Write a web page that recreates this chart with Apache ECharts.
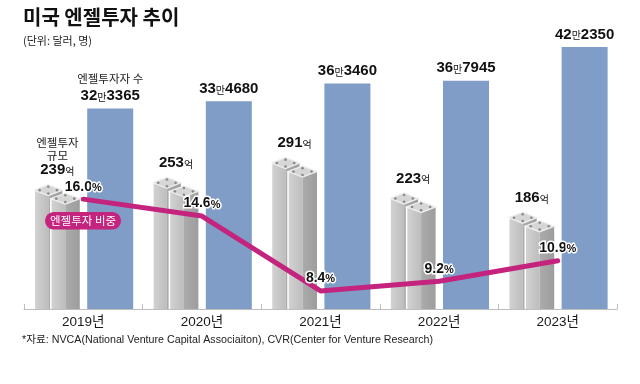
<!DOCTYPE html>
<html>
<head>
<meta charset="utf-8">
<script src="https://cdn.jsdelivr.net/npm/echarts@6/dist/echarts.min.js"></script>
<style>
html,body{margin:0;padding:0;background:#fff;}
#c{width:640px;height:384px;}
</style>
</head>
<body>
<div id="c"></div>
<script>
// ---- data ----
const years = ['2019년', '2020년', '2021년', '2022년', '2023년'];
const scaleValues = [239, 253, 291, 223, 186];          // 엔젤투자 규모 (억 달러)
const investors = [323365, 334680, 363460, 367945, 422350]; // 엔젤투자자 수 (명)
const shares = [16.0, 14.6, 8.4, 9.2, 10.9];             // 엔젤투자 비중 (%)

const NUM = '"Liberation Sans","Noto Sans CJK KR",sans-serif';
const KR = '"Noto Sans CJK KR","Noto Sans",sans-serif';
const MAGENTA = '#c4237e';
const BLUE = '#7f9dc6';

const chart = echarts.init(document.getElementById('c'), null, {renderer: 'canvas'});

function pillarShapes(tx, ty, baseY, h, v) {
  const top = [[tx - h, ty + v], [tx, ty], [tx + h, ty + v], [tx, ty + 2 * v]];
  const left = [[tx - h, ty + v], [tx, ty + 2 * v], [tx, baseY], [tx - h, baseY]];
  const right = [[tx, ty + 2 * v], [tx + h, ty + v], [tx + h, baseY], [tx, baseY]];
  const cx = tx, cy = ty + v;
  const k = 0.62;
  const dots = [[cx - h * k, cy], [cx, cy - v * k], [cx + h * k, cy], [cx, cy + v * k]];
  const els = [
    {type: 'polygon', shape: {points: left}, style: {fill: new echarts.graphic.LinearGradient(0, 0, 1, 0, [{offset: 0, color: '#d3d3d3'}, {offset: 1, color: '#bdbdbd'}])}},
    {type: 'polygon', shape: {points: right}, style: {fill: new echarts.graphic.LinearGradient(0, 0, 1, 0, [{offset: 0, color: '#ababab'}, {offset: 1, color: '#9d9d9d'}])}},
    {type: 'polygon', shape: {points: top}, style: {fill: '#d6d6d6', stroke: '#eeeeee', lineWidth: 1.3}},
    {type: 'line', shape: {x1: tx - h, y1: ty + v, x2: tx - h, y2: baseY}, style: {stroke: '#ffffff', lineWidth: 1.5}}
  ];
  dots.forEach(d => els.push({type: 'circle', shape: {cx: d[0], cy: d[1], r: 1.3}, style: {fill: '#8a8a8a'}}));
  return els;
}

const numRich = {
  n: {fontFamily: NUM, fontWeight: 'bold', fontSize: 15, color: '#111', lineHeight: 17},
  u: {fontFamily: KR, fontSize: 10, color: '#111', lineHeight: 17, padding: [2, 0, 0, 0]}
};

const option = {
  animation: false,
  backgroundColor: '#ffffff',
  grid: {left: 24, right: 23, top: 41, bottom: 75},
  xAxis: {
    type: 'category',
    data: years,
    boundaryGap: true,
    axisLine: {lineStyle: {color: '#bdbdbd', width: 1}},
    axisTick: {show: true, inside: true, length: 5, interval: 0, lineStyle: {color: '#bdbdbd'}},
    axisLabel: {margin: 7, color: '#1a1a1a', fontSize: 13.5, fontFamily: NUM}
  },
  yAxis: [
    {type: 'value', min: 0, max: 515, show: false},
    {type: 'value', min: 0, max: 432000, show: false},
    {type: 'value', min: 6.9, max: 29.1, show: false}
  ],
  series: [
    {
      name: '엔젤투자 규모',
      type: 'bar',
      yAxisIndex: 0,
      data: scaleValues,
      barWidth: 46,
      barGap: '17%',
      itemStyle: {color: 'rgba(0,0,0,0)'},
      label: {
        show: true, position: 'top', distance: 6, offset: [1, 0],
        formatter: p => (p.dataIndex === 0 ? '{s|엔젤투자}\n{s|규모}\n' : '') + '{n|' + p.value + '}{u|억}',
        rich: Object.assign({}, numRich, {
          s: {fontFamily: KR, fontSize: 11.5, color: '#222', lineHeight: 13, align: 'center'}
        })
      },
      z: 5
    },
    {
      name: '엔젤투자자 수',
      type: 'bar',
      yAxisIndex: 1,
      data: investors,
      barWidth: 46,
      itemStyle: {color: BLUE},
      label: {
        show: true, position: 'top', distance: 4,
        formatter: p => {
          const v = p.value;
          return (p.dataIndex === 0 ? '{s|엔젤투자자 수}\n' : '') + '{n|' + Math.floor(v / 10000) + '}{u|만}{n|' + String(v % 10000).padStart(4, '0') + '}';
        },
        rich: Object.assign({}, numRich, {
          s: {fontFamily: KR, fontSize: 11.5, color: '#222', lineHeight: 18, align: 'center'}
        })
      },
      z: 2
    },
    {
      name: 'pillars',
      type: 'custom',
      yAxisIndex: 0,
      data: scaleValues.map((v, i) => [i, v]),
      encode: {x: 0, y: 1},
      renderItem: (params, api) => {
        const i = api.value(0), v = api.value(1);
        const top = api.coord([i, v]);
        const base = api.coord([i, 0]);
        const cx = top[0];
        const x0 = cx - 49;
        const els = [].concat(
          pillarShapes(x0 + 14, top[1], base[1], 14, 5.5),
          pillarShapes(x0 + 31, top[1] + 8.5, base[1], 14.5, 5.5)
        );
        return {type: 'group', children: els};
      },
      z: 4
    },
    {
      name: '엔젤투자 비중',
      type: 'line',
      yAxisIndex: 2,
      data: shares,
      symbol: 'circle',
      symbolSize: 2,
      itemStyle: {color: MAGENTA},
      lineStyle: {color: MAGENTA, width: 5, cap: 'round', join: 'round'},
      label: {
        show: true, position: 'top', distance: 4,
        formatter: p => '{n|' + p.value.toFixed(1) + '}{p|%}',
        rich: {
          n: {fontFamily: NUM, fontWeight: 'bold', fontSize: 14, color: '#111', textBorderColor: '#fff', textBorderWidth: 3, lineHeight: 15},
          p: {fontFamily: NUM, fontWeight: 'bold', fontSize: 11, color: '#111', textBorderColor: '#fff', textBorderWidth: 3, lineHeight: 15, padding: [2, 0, 0, 0]}
        }
      },
      z: 10
    }
  ],
  graphic: [
    {type: 'text', left: 23, top: 7, style: {text: '미국 엔젤투자 추이', fontFamily: KR, fontWeight: 'bold', fontSize: 20, fill: '#111'}},
    {type: 'text', left: 23, top: 35, style: {text: '(단위: 달러, 명)', fontFamily: KR, fontSize: 11, fill: '#222'}},
    {type: 'text', left: 22, top: 335, style: {text: '*자료: NVCA(National Venture Capital Associaiton), CVR(Center for Venture Research)', fontFamily: NUM, fontSize: 10.7, fill: '#222'}},
    {type: 'text', left: 45, top: 212, z: 20, style: {text: '엔젤투자 비중', fontFamily: KR, fontSize: 11.5, fill: '#fff', backgroundColor: MAGENTA, borderRadius: 9, padding: [3, 5, 3, 5]}}
  ]
};
chart.setOption(option);
</script>
</body>
</html>
